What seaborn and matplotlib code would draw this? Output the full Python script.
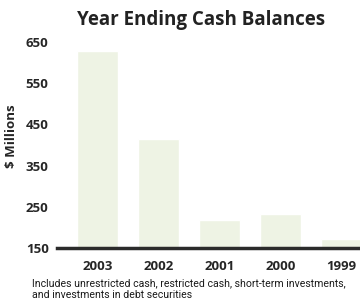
import matplotlib
matplotlib.use("Agg")
import matplotlib.pyplot as plt
import seaborn as sns
import pandas as pd

# Year-end cash balances ($ millions)
years = ['2003', '2002', '2001', '2000', '1999']
balances = [628, 415, 219, 233, 172]
y_ticks = [150, 250, 350, 450, 550, 650]

df = pd.DataFrame({'Year': years, 'Balance': balances})

sns.set_style('white')
plt.rcParams['font.family'] = ['Open Sans', 'DejaVu Sans']

fig = plt.figure(figsize=(3.6, 3.07), dpi=100)
ax = fig.add_axes([57 / 360, 1 - 248 / 307, 303 / 360, 206 / 307])

sns.barplot(data=df, x='Year', y='Balance', color='#eef3e4', width=0.67,
            saturation=1, ax=ax)

ax.set_ylim(150, 650)
ax.set_xlim(-0.66, 4.3)
ax.set_yticks(y_ticks)
ax.set_yticklabels([str(t) for t in y_ticks], fontweight='bold', fontsize=9.5)
ax.tick_params(axis='y', length=0, pad=6)
ax.tick_params(axis='x', length=0, pad=9)
for lbl in ax.get_xticklabels():
    lbl.set_fontweight('bold')
    lbl.set_fontsize(9.5)

ax.set_xlabel('')
ax.set_ylabel('')
for side in ['top', 'right', 'left']:
    ax.spines[side].set_visible(False)
ax.spines['bottom'].set_color('#2b2b2b')
ax.spines['bottom'].set_linewidth(2.5)

fig.text(12 / 360, 1 - 136 / 307, '$ Millions', rotation=90, ha='center',
         va='center', fontsize=9.5, fontweight='bold')
fig.text(201 / 360, 1 - 20 / 307, 'Year Ending Cash Balances', ha='center',
         va='center', fontsize=13.5, fontweight='bold', color='#222222')
fig.text(32 / 360, 1 - 289 / 307,
         'Includes unrestricted cash, restricted cash, short-term investments,\n'
         'and investments in debt securities',
         ha='left', va='center', fontsize=7.6, linespacing=1.3,
         family=['Roboto', 'DejaVu Sans'], color='#1a1a1a')

fig.savefig('out.png', dpi=100)
